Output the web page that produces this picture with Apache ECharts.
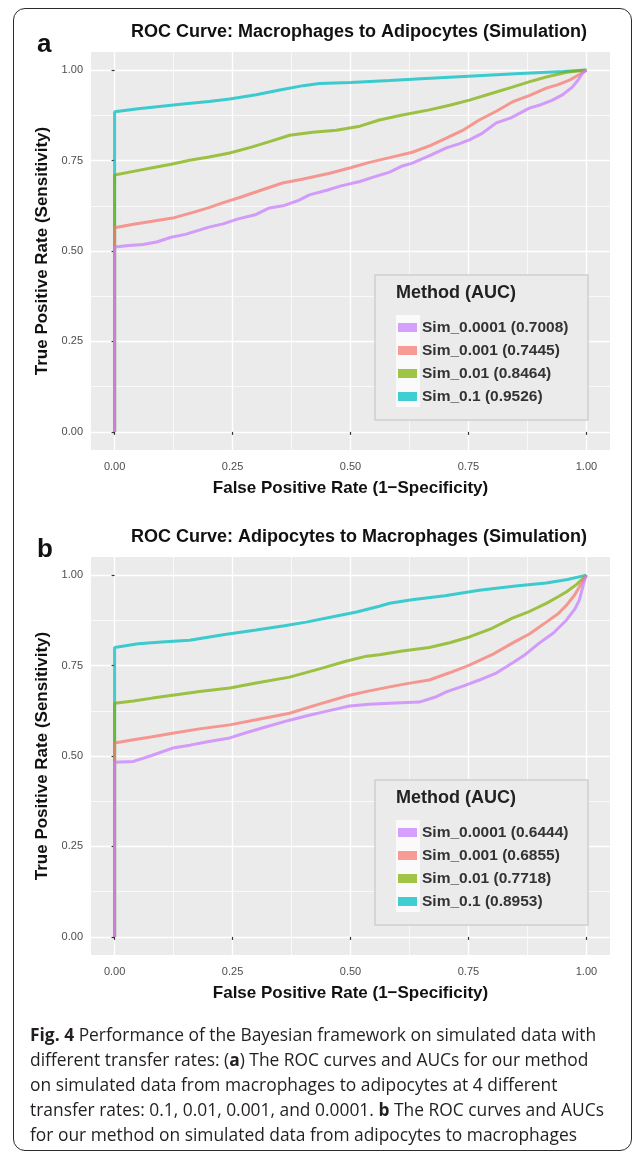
<!DOCTYPE html>
<html>
<head>
<meta charset="utf-8">
<script src="https://cdn.jsdelivr.net/npm/echarts@6/dist/echarts.min.js"></script>
<style>
  html, body { margin: 0; padding: 0; background: #fff; }
  #wrap { position: relative; width: 634px; height: 1155px; overflow: hidden; }
  #chart { position: absolute; left: 0; top: 0; width: 634px; height: 1155px; }
  #frame {
    position: absolute; left: 13px; top: 8px; width: 617px; height: 1141px;
    border: 1.5px solid #2b2b2b; border-radius: 12px; pointer-events: none;
  }
  #caption {
    position: absolute; left: 30px; top: 1022px; width: 600px;
    font-family: "Open Sans", "Noto Sans", sans-serif; font-size: 17.4px;
    line-height: 25px; color: #231f20; white-space: nowrap;
  }
  #caption b { font-weight: 700; }
</style>
</head>
<body>
<div id="wrap">
  <div id="chart"></div>
  <div id="frame"></div>
  <div id="caption">
    <b>Fig. 4</b> Performance of the Bayesian framework on simulated data with<br>
    different transfer rates: (<b>a</b>) The ROC curves and AUCs for our method<br>
    on simulated data from macrophages to adipocytes at 4 different<br>
    transfer rates: 0.1, 0.01, 0.001, and 0.0001. <b>b</b> The ROC curves and AUCs<br>
    for our method on simulated data from adipocytes to macrophages
  </div>
</div>
<script>
// ---- data: [false positive rate, true positive rate] ----
const majorTicks = [0, 0.25, 0.5, 0.75, 1];
const minorTicks = [0.125, 0.375, 0.625, 0.875];

const titleA = "ROC Curve: Macrophages to Adipocytes (Simulation)";
const titleB = "ROC Curve: Adipocytes to Macrophages (Simulation)";
const namesA = ["Sim_0.0001 (0.7008)", "Sim_0.001 (0.7445)", "Sim_0.01 (0.8464)", "Sim_0.1 (0.9526)"];
const namesB = ["Sim_0.0001 (0.6444)", "Sim_0.001 (0.6855)", "Sim_0.01 (0.7718)", "Sim_0.1 (0.8953)"];

const a_sim0001 = [[0,0],[0,0.511],[0.03,0.515],[0.06,0.518],[0.089,0.525],[0.12,0.538],[0.15,0.546],[0.2,0.566],[0.23,0.575],[0.26,0.588],[0.3,0.601],[0.328,0.619],[0.36,0.626],[0.39,0.64],[0.413,0.655],[0.45,0.668],[0.48,0.68],[0.52,0.692],[0.55,0.705],[0.583,0.718],[0.61,0.735],[0.631,0.743],[0.67,0.765],[0.703,0.785],[0.73,0.796],[0.752,0.807],[0.78,0.826],[0.809,0.854],[0.84,0.868],[0.879,0.895],[0.905,0.905],[0.928,0.917],[0.95,0.932],[0.97,0.953],[0.982,0.972],[0.992,0.992],[1,1]];
const a_sim001 = [[0,0],[0,0.564],[0.04,0.574],[0.08,0.582],[0.123,0.591],[0.17,0.608],[0.2,0.62],[0.229,0.633],[0.27,0.65],[0.31,0.668],[0.356,0.688],[0.4,0.699],[0.456,0.715],[0.5,0.73],[0.54,0.745],[0.583,0.758],[0.631,0.773],[0.67,0.792],[0.703,0.812],[0.74,0.835],[0.773,0.862],[0.81,0.887],[0.843,0.912],[0.88,0.93],[0.915,0.95],[0.94,0.96],[0.964,0.972],[0.985,0.988],[1,1]];
const a_sim01 = [[0,0],[0,0.71],[0.04,0.72],[0.08,0.73],[0.12,0.74],[0.159,0.751],[0.2,0.76],[0.244,0.771],[0.29,0.787],[0.33,0.803],[0.371,0.82],[0.42,0.828],[0.47,0.834],[0.52,0.845],[0.561,0.862],[0.61,0.876],[0.667,0.89],[0.71,0.903],[0.752,0.917],[0.8,0.936],[0.843,0.953],[0.88,0.968],[0.915,0.981],[0.958,0.994],[1,1]];
const a_sim1 = [[0,0],[0,0.885],[0.05,0.893],[0.1,0.9],[0.15,0.907],[0.2,0.913],[0.244,0.92],[0.3,0.932],[0.35,0.945],[0.4,0.957],[0.434,0.963],[0.5,0.966],[0.583,0.971],[0.65,0.976],[0.75,0.983],[0.85,0.99],[0.95,0.996],[1,1]];

const b_sim0001 = [[0,0],[0,0.483],[0.04,0.485],[0.08,0.502],[0.123,0.522],[0.16,0.53],[0.2,0.54],[0.244,0.55],[0.28,0.565],[0.32,0.58],[0.371,0.599],[0.41,0.612],[0.45,0.624],[0.498,0.638],[0.54,0.643],[0.583,0.646],[0.646,0.649],[0.68,0.663],[0.703,0.677],[0.74,0.694],[0.773,0.71],[0.81,0.73],[0.843,0.757],[0.87,0.78],[0.9,0.812],[0.93,0.84],[0.958,0.876],[0.975,0.905],[0.985,0.931],[0.996,0.986],[1,1]];
const b_sim001 = [[0,0],[0,0.536],[0.04,0.545],[0.08,0.553],[0.123,0.563],[0.18,0.575],[0.244,0.586],[0.3,0.6],[0.371,0.618],[0.43,0.642],[0.498,0.668],[0.54,0.68],[0.583,0.691],[0.62,0.7],[0.667,0.71],[0.71,0.73],[0.752,0.751],[0.8,0.78],[0.843,0.812],[0.88,0.838],[0.915,0.87],[0.94,0.893],[0.958,0.917],[0.975,0.945],[0.985,0.967],[1,1]];
const b_sim01 = [[0,0],[0,0.646],[0.04,0.652],[0.08,0.66],[0.123,0.668],[0.18,0.678],[0.244,0.688],[0.3,0.702],[0.371,0.718],[0.44,0.743],[0.49,0.762],[0.534,0.776],[0.561,0.78],[0.61,0.79],[0.667,0.8],[0.71,0.813],[0.752,0.829],[0.8,0.853],[0.843,0.881],[0.88,0.9],[0.915,0.922],[0.94,0.94],[0.958,0.954],[0.98,0.975],[1,1]];
const b_sim1 = [[0,0],[0,0.8],[0.05,0.81],[0.1,0.815],[0.159,0.82],[0.23,0.835],[0.3,0.848],[0.36,0.86],[0.406,0.87],[0.46,0.884],[0.513,0.898],[0.561,0.914],[0.583,0.922],[0.63,0.932],[0.7,0.943],[0.773,0.958],[0.85,0.97],[0.915,0.978],[0.96,0.988],[1,1]];

const colors = ["rgba(199,124,255,0.72)", "rgba(248,118,109,0.72)", "rgba(124,174,0,0.72)", "rgba(0,191,196,0.75)"];

// ---- layout ----
const FONT = "Liberation Sans, Arial, sans-serif";
const panelTops = [52, 557];
const PANEL_LEFT = 91, PANEL_W = 519, PANEL_H = 398;

const chart = echarts.init(document.getElementById("chart"));

function majorX(gi) {
  return {
    gridIndex: gi, type: "value", min: -0.05, max: 1.05,
    axisLine: { show: false },
    axisTick: { show: true, length: 3, lineStyle: { color: "#333", width: 1.2 }, customValues: majorTicks },
    axisLabel: { customValues: majorTicks, formatter: v => v.toFixed(2), color: "#4d4d4d",
      fontSize: 11, fontFamily: FONT, margin: 11 },
    splitLine: { show: true, lineStyle: { color: "#ffffff", width: 1.4 } },
    name: "False Positive Rate (1\u2212Specificity)", nameLocation: "middle", nameGap: 30,
    nameTextStyle: { fontSize: 17, fontWeight: "bold", color: "#111", fontFamily: FONT }
  };
}
function minorX(gi) {
  return {
    gridIndex: gi, type: "value", min: -0.05, max: 1.05, position: "bottom",
    axisLine: { show: false }, axisLabel: { show: false },
    axisTick: { show: false, customValues: minorTicks },
    splitLine: { show: true, lineStyle: { color: "#ffffff", width: 0.7 } }
  };
}
function majorY(gi) {
  return {
    gridIndex: gi, type: "value", min: -0.05, max: 1.05,
    axisLine: { show: false },
    axisTick: { show: true, length: 3, lineStyle: { color: "#333", width: 1.2 }, customValues: majorTicks },
    axisLabel: { customValues: majorTicks, formatter: v => v.toFixed(2), color: "#4d4d4d",
      fontSize: 11, fontFamily: FONT, margin: 8 },
    splitLine: { show: true, lineStyle: { color: "#ffffff", width: 1.4 } },
    name: "True Positive Rate (Sensitivity)", nameLocation: "middle", nameGap: 36,
    nameTextStyle: { fontSize: 17, fontWeight: "bold", color: "#111", fontFamily: FONT }
  };
}
function minorY(gi) {
  return {
    gridIndex: gi, type: "value", min: -0.05, max: 1.05, position: "left",
    axisLine: { show: false }, axisLabel: { show: false },
    axisTick: { show: false, customValues: minorTicks },
    splitLine: { show: true, lineStyle: { color: "#ffffff", width: 0.7 } }
  };
}

function lineSeries(name, data, color, gi) {
  return {
    name, type: "line", data, xAxisIndex: gi * 2, yAxisIndex: gi * 2,
    showSymbol: false, symbol: "none", color, animation: false,
    lineStyle: { width: 3, color }, itemStyle: { color }, z: 2
  };
}

// draw Sim_0.1 first so the lower-rate curves sit on top (as in the figure)
const series = [];
const dataA = [a_sim0001, a_sim001, a_sim01, a_sim1];
const dataB = [b_sim0001, b_sim001, b_sim01, b_sim1];
for (let i = 3; i >= 0; i--) series.push(lineSeries(namesA[i], dataA[i], colors[i], 0));
for (let i = 3; i >= 0; i--) series.push(lineSeries(namesB[i], dataB[i], colors[i], 1));

function legendFor(names, top) {
  return {
    data: names.map(n => ({ name: n, icon: "rect" })), orient: "vertical",
    left: 375, top: top, padding: [44, 12, 16, 23],
    itemWidth: 19, itemHeight: 9, itemGap: 6, selectedMode: false,
    textStyle: { fontSize: 15.5, fontWeight: "bold", color: "#333", fontFamily: FONT, lineHeight: 17 },
    z: 5
  };
}

const graphics = [];
panelTops.forEach((pt, i) => {
  const legTop = pt + 223;
  graphics.push({ type: "rect", z: 3, shape: { x: 375, y: legTop, width: 213, height: 145 },
    style: { fill: "#ebebeb", stroke: "#cfcfcf", lineWidth: 1.5 } });
  graphics.push({ type: "rect", z: 4, shape: { x: 396, y: legTop + 40, width: 24, height: 92 },
    style: { fill: "#fafafa" } });
  graphics.push({ type: "text", z: 6, x: 396, y: legTop + 18,
    style: { text: "Method (AUC)", font: "bold 18px " + FONT, fill: "#222", textVerticalAlign: "middle" } });
  graphics.push({ type: "text", z: 6, x: 359, y: pt - 20,
    style: { text: i === 0 ? titleA : titleB, font: "bold 18px " + FONT, fill: "#111",
      textAlign: "center", textVerticalAlign: "middle" } });
  graphics.push({ type: "text", z: 6, x: 37, y: pt - 7,
    style: { text: i === 0 ? "a" : "b", font: "bold 26px " + FONT, fill: "#111", textVerticalAlign: "middle" } });
});

chart.setOption({
  animation: false,
  grid: panelTops.map(t => ({ left: PANEL_LEFT, top: t, width: PANEL_W, height: PANEL_H,
    show: true, backgroundColor: "#ebebeb", borderWidth: 0, containLabel: false })),
  xAxis: [majorX(0), minorX(0), majorX(1), minorX(1)],
  yAxis: [majorY(0), minorY(0), majorY(1), minorY(1)],
  legend: [legendFor(namesA, panelTops[0] + 223), legendFor(namesB, panelTops[1] + 223)],
  series,
  graphic: graphics
});
</script>
</body>
</html>
